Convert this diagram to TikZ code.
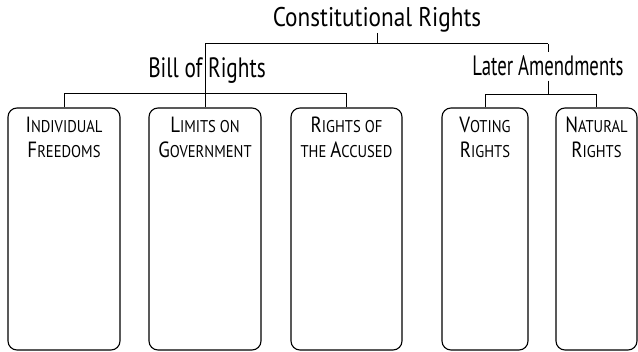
\documentclass[tikz,border=0pt]{standalone}
\usepackage{fontspec}
\setmainfont{PT Sans}[FakeStretch=0.86]
\usetikzlibrary{calc}
\def\capword#1#2{{\fontsize{22}{25}\selectfont #1}{\fontsize{17}{25}\selectfont #2}}
\def\rightsbox(#1,#2,#3,#4){
  \node[rbox, minimum width=#3] (#1) at (#2,229) {};
  \node[rlabel] (#1_txt) at ($(#1.north)+(0,9)$) {#4};
}

\begin{document}
\begin{tikzpicture}[x=1pt, y=-1pt,
  rbox/.style={draw, line width=1.1pt, rounded corners=9pt, minimum height=242pt, inner sep=0pt},
  rlabel/.style={anchor=north, align=center, inner sep=0pt, font=\fontsize{17}{25}\selectfont},
  head/.style={anchor=base, inner sep=0pt, font=\fontsize{27}{28}\selectfont},
  link/.style={line width=1pt}]
\useasboundingbox (0,0) rectangle (638,352);
\node[head] (title) at (377,27) {Constitutional Rights};
\node[head, font=\fontsize{28}{28}\selectfont\addfontfeature{FakeStretch=0.76}] (bill) at (207,78) {Bill of Rights};
\node[head, inner sep=4pt, font=\fontsize{28}{28}\selectfont\addfontfeature{FakeStretch=0.67}] (later) at (548,76) {Later Amendments};
\rightsbox(box_ind,64,112pt,\capword{I}{NDIVIDUAL}\\\capword{F}{REEDOMS})
\rightsbox(box_lim,205,112pt,\capword{L}{IMITS ON}\\\capword{G}{OVERNMENT})
\rightsbox(box_acc,346.5,111pt,\capword{R}{IGHTS OF}\\THE \capword{A}{CCUSED})
\rightsbox(box_vot,485,86pt,\capword{V}{OTING}\\\capword{R}{IGHTS})
\rightsbox(box_nat,596.5,81pt,\capword{N}{ATURAL}\\\capword{R}{IGHTS})
\coordinate (split_top) at (377,44);
\draw[link] (title.south) -- (split_top);
\draw[link] (split_top -| box_lim.north) -- (split_top -| later.north);
\draw[link] (split_top -| box_lim.north) -- (box_lim.north);
\draw[link] (split_top -| later.north) -- (later.north);
\draw[link] (box_ind.north) -- ++(0,-14) -| (box_acc.north);
\draw[link] (box_vot.north) -- ++(0,-13) coordinate (join_r) -| (box_nat.north);
\draw[link] (later.south) -- (later.south |- join_r);
\end{tikzpicture}
\end{document}
